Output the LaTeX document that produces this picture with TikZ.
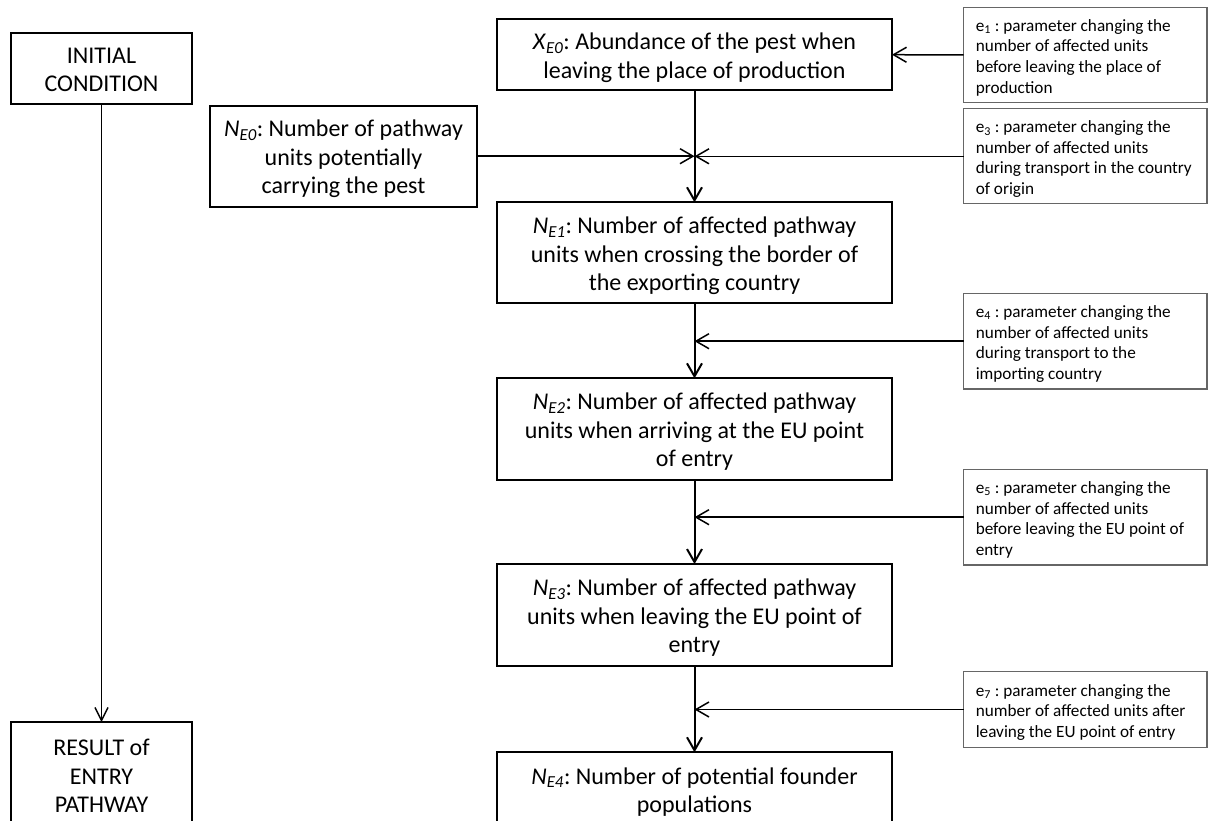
\documentclass[tikz,border=0pt]{standalone}
\usepackage{fontspec}
\setmainfont{Carlito}
\usetikzlibrary{arrows.meta}
\frenchspacing
\begin{document}
\begin{tikzpicture}[x=1pt,y=-1pt,
  mainbox/.style={draw=black, line width=2pt, rectangle, inner sep=0pt, outer sep=0pt,
    align=flush center, font=\fontsize{24}{28.5}\selectfont, minimum width=395pt, text width=395pt,
    execute at begin node={\rule{0pt}{24.5pt}},
    execute at end node={\rule[-6pt]{0pt}{0pt}}},
  ebox/.style={draw=black!60, line width=1.2pt, rectangle, inner sep=0pt, outer sep=0pt,
    text width=219pt, align=flush left, minimum width=243.5pt,
    font=\fontsize{17.2}{20.7}\selectfont,
    execute at begin node={\rule{0pt}{18.7pt}},
    execute at end node={\rule[-4.2pt]{0pt}{0pt}}},
  flow/.style={line width=2pt, -{Straight Barb[length=13pt,width=15pt]}},
  side/.style={line width=1.5pt, -{Straight Barb[length=13pt,width=15pt]}},
  thinflow/.style={line width=1.4pt, -{Straight Barb[length=13pt,width=13pt]}},
]
\useasboundingbox (0,0) rectangle (1208,821);
\clip (0,0) rectangle (1208,821);
\fill[white] (0,0) rectangle (1208,821);

% left column
\node[mainbox, minimum width=181pt, text width=181pt, minimum height=71pt] (init) at (101.5,68.5) {INITIAL\\CONDITION};
\node[mainbox, minimum width=181pt, text width=181pt, minimum height=106pt] (res) at (101.5,775) {RESULT of\\ENTRY\\PATHWAY};

% N_E0
\node[mainbox, minimum width=267pt, text width=267pt, minimum height=101pt] (ne0) at (343.5,156.2)
  {\textit{N}\textsubscript{\textit{E0}}: Number of pathway\\units potentially\\carrying the pest};

% main column
\node[mainbox, minimum height=71.3pt] (xe0) at (694.5,54.7)
  {\textit{X}\textsubscript{\textit{E0}}: Abundance of the pest when\\leaving the place of production};
\node[mainbox, minimum height=101pt] (ne1) at (694.5,252.8)
  {\textit{N}\textsubscript{\textit{E1}}: Number of affected pathway\\units when crossing the border of\\the exporting country};
\node[mainbox, minimum height=101.7pt] (ne2) at (694.5,429.2)
  {\textit{N}\textsubscript{\textit{E2}}: Number of affected pathway\\units when arriving at the EU point\\of entry};
\node[mainbox, minimum height=101.7pt] (ne3) at (694.5,614.9)
  {\textit{N}\textsubscript{\textit{E3}}: Number of affected pathway\\units when leaving the EU point of\\entry};
\node[mainbox, minimum height=73.4pt] (ne4) at (694.5,789)
  {\textit{N}\textsubscript{\textit{E4}}: Number of potential founder\\populations};

% parameter boxes
\node[ebox, minimum height=95.4pt] (e1) at (1085.25,55)
  {\mbox{e\textsubscript{1} : parameter changing the}\\ \mbox{number of affected units}\\ \mbox{before leaving the place of}\\ production};
\node[ebox, minimum height=95pt] (e3) at (1085.25,156.3)
  {\mbox{e\textsubscript{3} : parameter changing the}\\ \mbox{number of affected units}\\ \mbox{during transport in the country}\\ of origin};
\node[ebox, minimum height=95.7pt] (e4) at (1085.25,341.2)
  {\mbox{e\textsubscript{4} : parameter changing the}\\ \mbox{number of affected units}\\ \mbox{during transport to the}\\ importing country};
\node[ebox, minimum height=95.7pt] (e5) at (1085.25,517.2)
  {\mbox{e\textsubscript{5} : parameter changing the}\\ \mbox{number of affected units}\\ \mbox{before leaving the EU point of}\\ entry};
\node[ebox, minimum height=75.6pt] (e7) at (1085.25,709.5)
  {\mbox{e\textsubscript{7} : parameter changing the}\\ \mbox{number of affected units after}\\ \mbox{leaving the EU point of entry}};

% connectors
\draw[thinflow] (init) -- (res);
\draw[flow] (xe0) -- (ne1);
\draw[flow] (ne1) -- (ne2);
\draw[flow] (ne2) -- (ne3);
\draw[flow] (ne3) -- (ne4);

\draw[side] (e1.west) -- (xe0.east);
\draw[side] (ne0.east) -- (ne0.east -| xe0.south);
\draw[side] (e3.west) -- (e3.west -| xe0.south);
\draw[side] (e4.west) -- (e4.west -| ne1.south);
\draw[side] (e5.west) -- (e5.west -| ne2.south);
\draw[side] (e7.west) -- (e7.west -| ne3.south);
\end{tikzpicture}
\end{document}
